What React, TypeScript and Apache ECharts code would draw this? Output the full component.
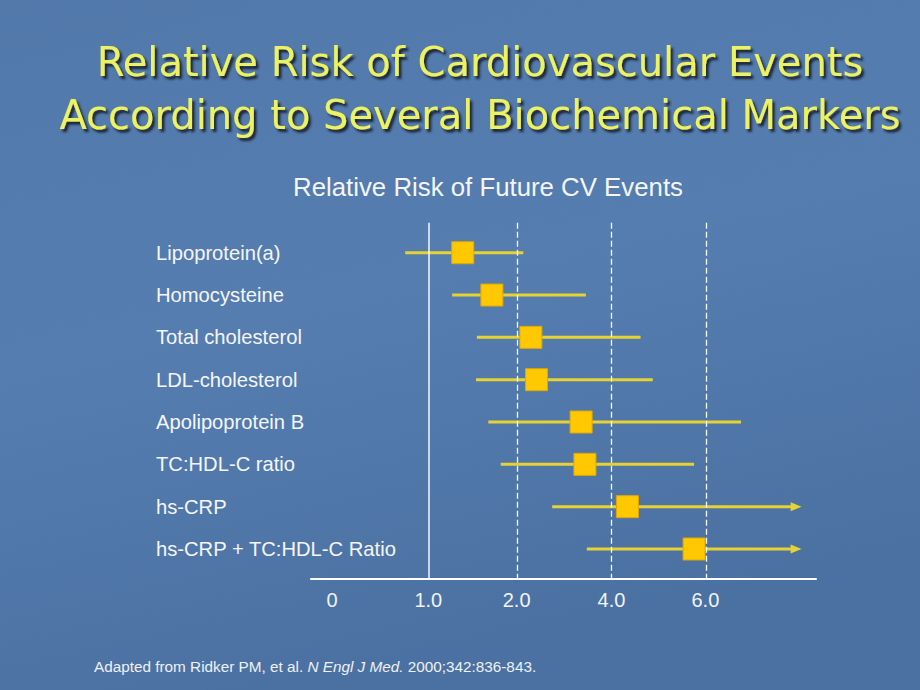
import React, { useEffect, useRef } from "react";
import * as echarts from "echarts";

const MARKERS = [
  "Lipoprotein(a)",
  "Homocysteine",
  "Total cholesterol",
  "LDL-cholesterol",
  "Apolipoprotein B",
  "TC:HDL-C ratio",
  "hs-CRP",
  "hs-CRP + TC:HDL-C Ratio",
];
const RR_POINT = [1.39, 1.72, 2.3, 2.42, 3.36, 3.44, 4.34, 5.76];
const CI_LOW = [0.76, 1.27, 1.55, 1.54, 1.68, 1.82, 2.75, 3.48];
const CI_HIGH = [2.14, 3.46, 4.62, 4.88, 6.76, 5.76, 8.05, 8.05];
const CI_OPEN = [false, false, false, false, false, false, true, true];

const TICK_RR = [0, 1, 2, 4, 6];
const TICK_LABELS = ["0", "1.0", "2.0", "4.0", "6.0"];
const REF_RR = [1, 2, 4, 6];
// axis is drawn with (nearly) equal spacing between the printed tick values
const SCALE_SLOT = [-0.04, 1, 1.955, 2.98, 3.995];

const TITLE_LINES = [
  "Relative Risk of Cardiovascular Events",
  "According to Several Biochemical Markers",
];
const SUBTITLE = "Relative Risk of Future CV Events";
const SOURCE = "Adapted from Ridker PM, et al. {i|N Engl J Med.} 2000;342:836-843.";

function toSlot(rr: number): number {
  const n = TICK_RR.length;
  if (rr <= TICK_RR[0]) return SCALE_SLOT[0];
  for (let k = 1; k < n; k++) {
    if (rr <= TICK_RR[k]) {
      const t = (rr - TICK_RR[k - 1]) / (TICK_RR[k] - TICK_RR[k - 1]);
      return SCALE_SLOT[k - 1] + t * (SCALE_SLOT[k] - SCALE_SLOT[k - 1]);
    }
  }
  const slope = (SCALE_SLOT[n - 1] - SCALE_SLOT[n - 2]) / (TICK_RR[n - 1] - TICK_RR[n - 2]);
  return SCALE_SLOT[n - 1] + (rr - TICK_RR[n - 1]) * slope;
}

const CI_COLOR = "#e6d234";
const BOX_COLOR = "#ffc800";
const TITLE_COLOR = "#ecf262";

export default function App() {
  const ref = useRef<HTMLDivElement>(null);
  useEffect(() => {
    if (!ref.current) return;
    const chart = echarts.init(ref.current, undefined, { renderer: "svg" });
    const tickSlots = TICK_RR.map(toSlot);
    const labelFor = (v: number) => {
      let best = 0;
      tickSlots.forEach((s, k) => {
        if (Math.abs(s - v) < Math.abs(tickSlots[best] - v)) best = k;
      });
      return TICK_LABELS[best];
    };
    const ciData = MARKERS.map((_, i) => [toSlot(CI_LOW[i]), toSlot(CI_HIGH[i]), i, CI_OPEN[i] ? 1 : 0]);
    const ptData = MARKERS.map((_, i) => [toSlot(RR_POINT[i]), i]);

    const titleStyle = {
      fill: TITLE_COLOR,
      font: "40px 'DejaVu Sans', sans-serif",
      textAlign: "center",
      textVerticalAlign: "middle",
      textShadowColor: "rgba(18,26,44,0.95)",
      textShadowOffsetX: 2.5,
      textShadowOffsetY: 3,
      textShadowBlur: 2,
    };

    chart.setOption({
      animation: false,
      backgroundColor: {
        type: "linear",
        x: 0, y: 0, x2: 0.3, y2: 1,
        colorStops: [
          { offset: 0, color: "#5279aa" },
          { offset: 0.5, color: "#567db0" },
          { offset: 1, color: "#4b71a2" },
        ],
      },
      grid: { left: 311, right: 104, top: 222.7, bottom: 690 - 578.3, containLabel: false },
      xAxis: {
        type: "value",
        min: toSlot(0) - 0.228,
        max: 5.191,
        axisLine: { show: true, onZero: false, lineStyle: { color: "#ffffff", width: 2 } },
        axisTick: { show: false },
        splitLine: { show: false },
        axisLabel: {
          customValues: tickSlots,
          formatter: (v: number) => labelFor(v),
          color: "#f2f4f8",
          fontFamily: "Liberation Sans, Arial, sans-serif",
          fontSize: 20,
          margin: 12,
        },
      },
      yAxis: {
        type: "value",
        inverse: true,
        min: -0.709,
        max: 7.692,
        axisLine: { show: false },
        axisTick: { show: false },
        splitLine: { show: false },
        axisLabel: {
          customValues: MARKERS.map((_, i) => i),
          formatter: (v: number) => MARKERS[Math.round(v)] ?? "",
          align: "left",
          margin: 155,
          color: "#f4f6fa",
          fontFamily: "Liberation Sans, Arial, sans-serif",
          fontSize: 20.2,
        },
      },
      graphic: [
        {
          type: "text",
          x: 480,
          y: 62,
          style: { ...titleStyle, text: TITLE_LINES[0] },
        },
        {
          type: "text",
          x: 480,
          y: 115,
          style: { ...titleStyle, text: TITLE_LINES[1] },
        },
        {
          type: "text",
          x: 488,
          y: 187,
          style: {
            text: SUBTITLE,
            fill: "#f4f6fa",
            font: "25.8px 'Liberation Sans', Arial, sans-serif",
            textAlign: "center",
            textVerticalAlign: "middle",
          },
        },
        {
          type: "text",
          x: 94,
          y: 666,
          style: {
            text: SOURCE,
            fill: "#eef1f6",
            font: "15.3px 'Liberation Sans', Arial, sans-serif",
            textAlign: "left",
            textVerticalAlign: "middle",
            rich: { i: { fontStyle: "italic", fontSize: 15.3, fontFamily: "Liberation Sans", fill: "#eef1f6" } },
          },
        },
      ],
      series: [
        {
          type: "scatter",
          data: [],
          silent: true,
          z: 1,
          markLine: {
            silent: true,
            symbol: ["none", "none"],
            label: { show: false },
            data: REF_RR.map((r, k) => ({
              xAxis: toSlot(r),
              lineStyle: {
                color: "#ffffff",
                width: k === 0 ? 1.5 : 1.3,
                type: k === 0 ? "solid" : [6, 3],
                opacity: 0.95,
              },
            })),
          },
        },
        {
          type: "custom",
          z: 2,
          silent: true,
          data: ciData,
          encode: { x: [0, 1], y: 2 },
          renderItem: (_params: any, api: any) => {
            const y = api.value(2);
            const lo = api.coord([api.value(0), y]);
            const hi = api.coord([api.value(1), y]);
            const open = api.value(3) === 1;
            const children: any[] = [
              {
                type: "line",
                shape: { x1: lo[0], y1: lo[1], x2: open ? hi[0] - 6 : hi[0], y2: hi[1] },
                style: { stroke: CI_COLOR, lineWidth: 3 },
              },
            ];
            if (open) {
              children.push({
                type: "polygon",
                shape: { points: [[hi[0], hi[1]], [hi[0] - 11, hi[1] - 4.5], [hi[0] - 11, hi[1] + 4.5]] },
                style: { fill: CI_COLOR },
              });
            }
            return { type: "group", children };
          },
        },
        {
          type: "scatter",
          z: 3,
          silent: true,
          data: ptData,
          symbol: "rect",
          symbolSize: 22,
          itemStyle: { color: BOX_COLOR, borderColor: "#e0a800", borderWidth: 1, opacity: 1 },
        },
      ],
    });
    return () => chart.dispose();
  }, []);
  return (
    <div
      ref={ref}
      style={{ position: "fixed", left: 0, top: 0, width: 920, height: 690 }}
    />
  );
}
